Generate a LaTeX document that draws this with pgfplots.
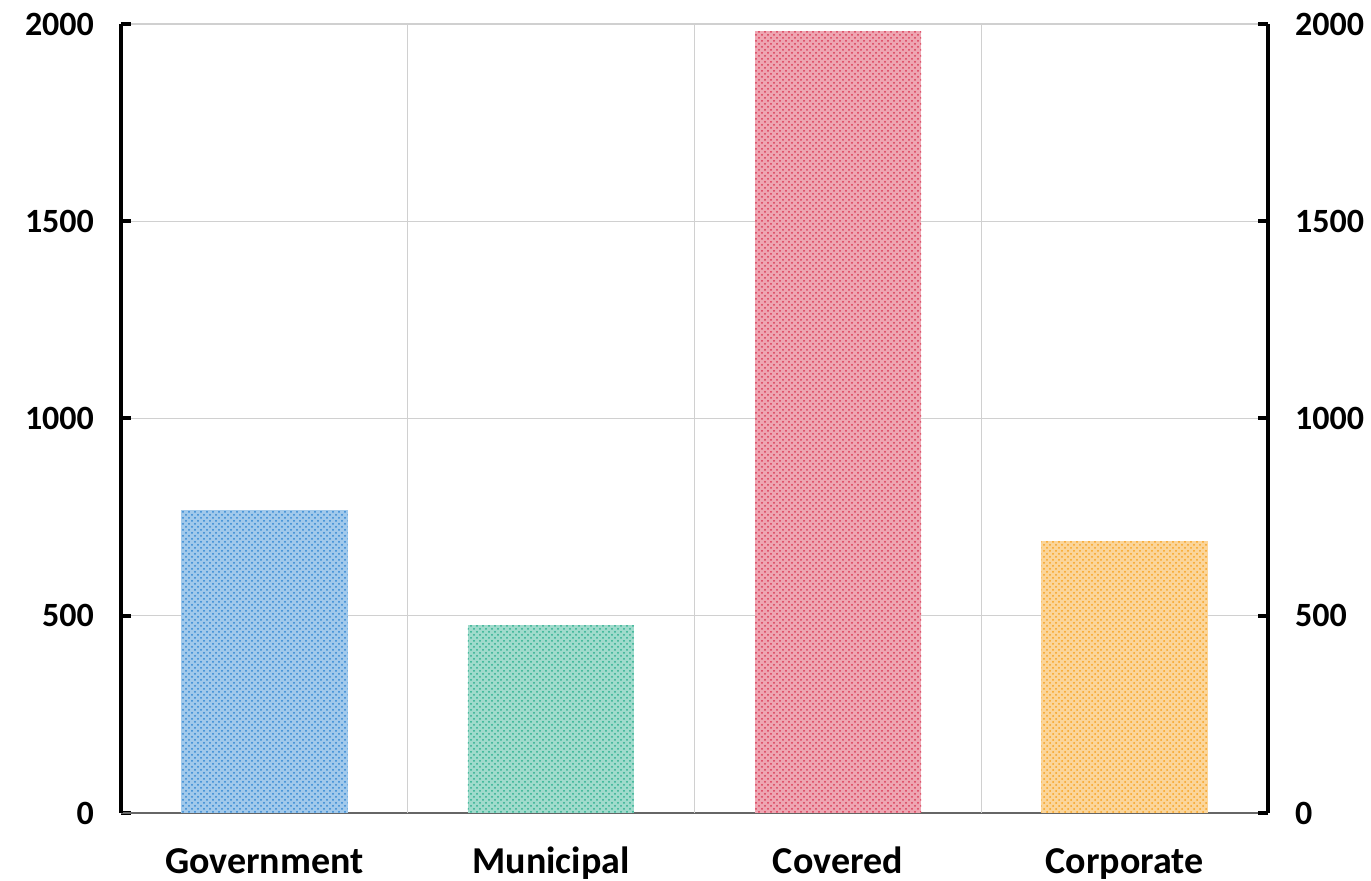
\documentclass[border=0pt]{standalone}
\usepackage{pgfplots}
\pgfplotsset{compat=1.18}
\usepackage{fontspec}
\setmainfont{Carlito}
\usetikzlibrary{patterns}
\definecolor{cblue}{HTML}{2F86D2}
\definecolor{cteal}{HTML}{2BAE8E}
\definecolor{cred}{HTML}{D93A55}
\definecolor{corange}{HTML}{F7A21E}
\definecolor{gridgray}{HTML}{D0D0D0}
\begin{document}
\begin{tikzpicture}[x=1pt,y=1pt]
\useasboundingbox (-60.5,-34) rectangle (625,406.5);
\pgfplotsset{
  common/.style={
    scale only axis, width=573.5pt, height=394.5pt,
    at={(0,0)}, anchor=south west,
    xmin=-0.5, xmax=3.5, ymin=0, ymax=2000,
    ytick={0,500,1000,1500,2000},
    /pgf/number format/assume math mode=true,
    tick label style={font=\fontsize{17}{20}\selectfont\bfseries},
    scaled y ticks=false,
    yticklabel style={/pgf/number format/1000 sep={}},
  }
}
\begin{axis}[common,
  axis x line*=bottom, axis y line*=left,
  x axis line style={draw=gray!80!black, line width=0.6pt, -},
  y axis line style={draw=black, line width=2pt, -},
  ytick style={draw=black, line width=2pt},
  major tick length=5pt,
  xtick={0,1,2,3},
  xticklabels={Government,Municipal,Covered,Corporate},
  x tick style={draw=none},
  xticklabel style={anchor=base, yshift=-25.5pt, inner sep=0.5pt, font=\fontsize{19}{22}\selectfont\bfseries},
  yticklabel style={xshift=-10pt},
  extra x ticks={0.5,1.5,2.5},
  extra x tick labels={},
  extra x tick style={grid=major, tick style={draw=gray!30!black, line width=0.8pt}, major grid style={draw=gridgray, line width=0.6pt}},
  ymajorgrids, major grid style={draw=gridgray, line width=0.6pt},
  ybar, bar width=0.58, bar shift=0pt,
]
\addplot[draw=none, fill=cblue!45, postaction={pattern=crosshatch dots, pattern color=cblue}] coordinates {(0,767)};
\addplot[draw=none, fill=cteal!45, postaction={pattern=crosshatch dots, pattern color=cteal}] coordinates {(1,476)};
\addplot[draw=none, fill=cred!45, postaction={pattern=crosshatch dots, pattern color=cred}] coordinates {(2,1982)};
\addplot[draw=none, fill=corange!45, postaction={pattern=crosshatch dots, pattern color=corange}] coordinates {(3,689)};
\end{axis}
\begin{axis}[common,
  axis x line=none, axis y line*=right,
  y axis line style={draw=black, line width=2pt, -},
  ytick style={draw=black, line width=2pt},
  major tick length=5pt,
  yticklabel style={xshift=10pt},
]
\addplot[draw=none] coordinates {(0,0)};
\end{axis}
\end{tikzpicture}
\end{document}
